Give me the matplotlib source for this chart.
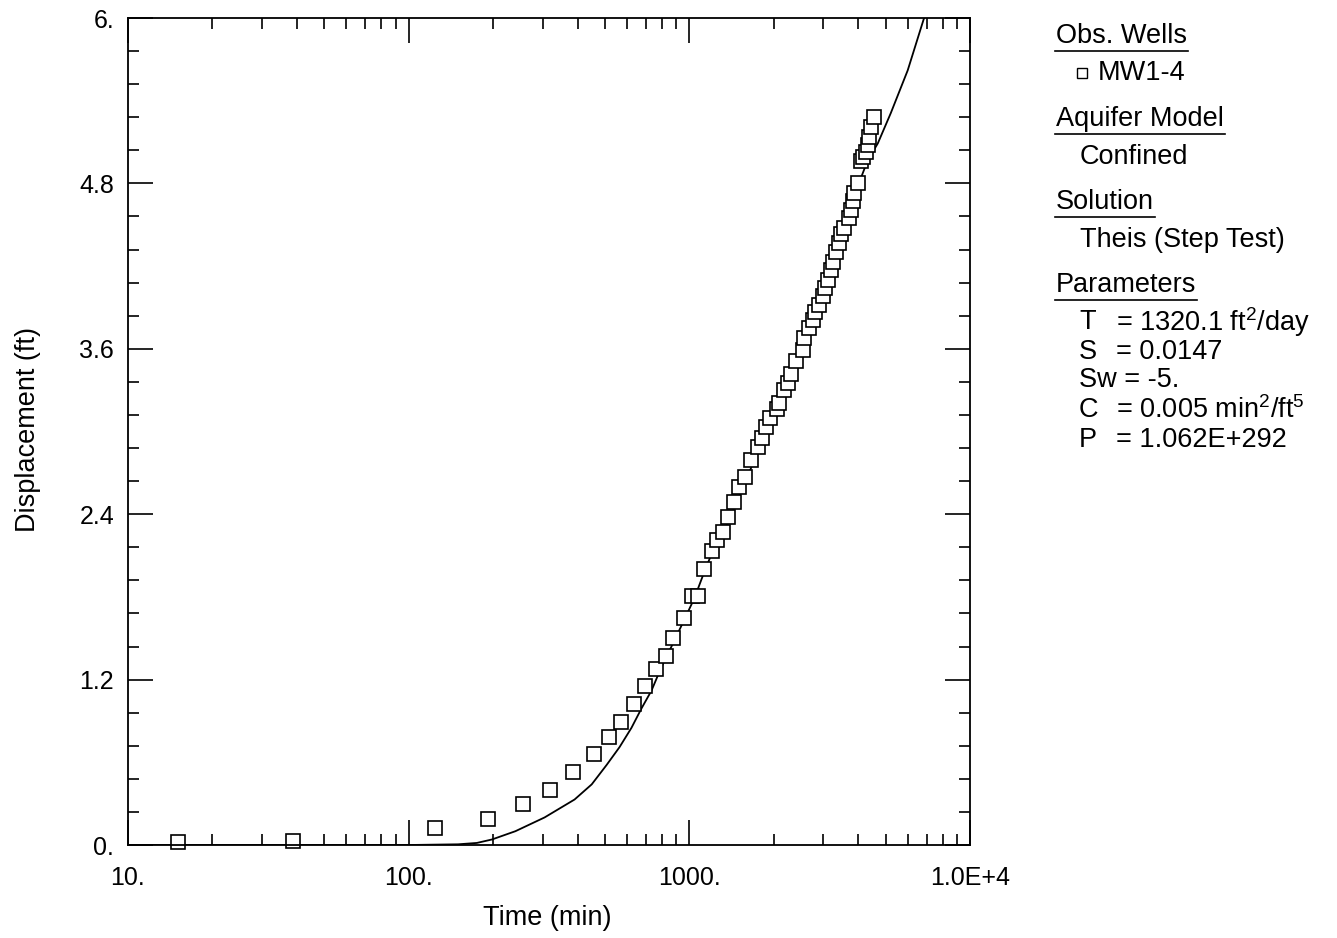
import matplotlib
matplotlib.use("Agg")
import matplotlib.pyplot as plt
import numpy as np
from matplotlib.lines import Line2D
from matplotlib.ticker import FixedLocator, FixedFormatter, NullFormatter

plt.rcParams['font.family'] = ['Liberation Sans', 'DejaVu Sans']
plt.rcParams['mathtext.fontset'] = 'custom'
plt.rcParams['mathtext.rm'] = 'Liberation Sans'

# observed data, MW1-4
obs_time = [15.05, 38.6, 124.2, 191.6, 255.0, 318.3, 384.1, 456.0, 515.6, 568.7,
            632.6, 697.8, 763.5, 828.7, 877.5, 960, 1025, 1076, 1130, 1207,
            1258, 1321, 1376, 1445, 1505, 1581, 1661, 1759, 1817, 1877,
            1940, 2054, 2088, 2175, 2247, 2303, 2399, 2541, 2562, 2669,
            2758, 2803, 2896, 2992, 3042, 3117, 3194, 3247, 3328, 3411,
            3467, 3552, 3703, 3764, 3826, 3857, 3986, 4083, 4151, 4254,
            4324, 4359, 4431, 4541]
obs_disp = [0.02, 0.03, 0.12, 0.19, 0.30, 0.40, 0.53, 0.66, 0.78, 0.89,
            1.02, 1.15, 1.28, 1.37, 1.50, 1.65, 1.81, 1.81, 2.00, 2.13,
            2.21, 2.27, 2.38, 2.49, 2.60, 2.67, 2.79, 2.89, 2.95, 3.03,
            3.10, 3.16, 3.21, 3.30, 3.35, 3.42, 3.51, 3.59, 3.68, 3.75,
            3.81, 3.87, 3.92, 3.98, 4.04, 4.10, 4.17, 4.23, 4.30, 4.37,
            4.43, 4.48, 4.55, 4.61, 4.67, 4.73, 4.80, 4.96, 4.99, 5.03,
            5.08, 5.14, 5.21, 5.28]

# fitted Theis (step test) curve
fit_time = [10, 50, 100, 150, 175, 198, 240, 305, 390, 449, 507, 564, 622, 675,
            733, 795, 878, 952, 1042, 1130, 1227, 1376, 1469, 1956, 2713, 3467,
            4018, 4324, 4693, 5221, 5998, 6836, 7000]
fit_disp = [0.0, 0.0, 0.0, 0.005, 0.015, 0.04, 0.10, 0.20, 0.33, 0.44, 0.58, 0.71,
            0.85, 0.99, 1.12, 1.29, 1.47, 1.62, 1.79, 1.98, 2.16, 2.34, 2.48, 3.08,
            3.77, 4.39, 4.80, 4.97, 5.09, 5.31, 5.62, 5.99, 6.04]

x_major = [10, 100, 1000, 10000]
x_labels = ["10.", "100.", "1000.", "1.0E+4"]
y_major = [0, 1.2, 2.4, 3.6, 4.8, 6.0]
y_labels = ["0.", "1.2", "2.4", "3.6", "4.8", "6."]

W, H = 1337, 938
fig = plt.figure(figsize=(W / 100, H / 100), dpi=100)
ax = fig.add_axes([128 / W, 93 / H, 842 / W, 827 / H])

ax.plot(fit_time, fit_disp, color='black', lw=1.3)
ax.plot(obs_time, obs_disp, linestyle='none', marker='s', ms=9.5,
        mfc='white', mec='black', mew=1.2, clip_on=False)

ax.set_xscale('log')
ax.set_xlim(10, 10000)
ax.set_ylim(0, 6)

ax.xaxis.set_major_locator(FixedLocator(x_major))
ax.xaxis.set_major_formatter(FixedFormatter(x_labels))
minors = [m * d for d in [10, 100, 1000] for m in range(2, 10)]
ax.xaxis.set_minor_locator(FixedLocator(minors))
ax.xaxis.set_minor_formatter(NullFormatter())
ax.yaxis.set_major_locator(FixedLocator(y_major))
ax.yaxis.set_major_formatter(FixedFormatter(y_labels))
ax.yaxis.set_minor_locator(FixedLocator(np.arange(0, 6.01, 0.24)))

ax.tick_params(which='both', direction='in', top=True, right=True,
               labelsize=18, width=1.2, colors='black')
ax.tick_params(which='major', length=18)
ax.tick_params(which='minor', length=8)
ax.tick_params(axis='x', which='major', pad=15)
ax.tick_params(axis='y', which='major', pad=10)
for s in ax.spines.values():
    s.set_linewidth(1.3)

fs = 19.5
fig.text(547 / W, 1 - 918 / H, "Time (min)", fontsize=fs, ha='center', va='center')
fig.text(28 / W, 1 - 430 / H, "Displacement (ft)", fontsize=fs, ha='center',
         va='center', rotation=90)


# side panel
def ftext(x, y, s):
    return fig.text(x / W, 1 - y / H, s, fontsize=fs, va='center', ha='left')


headers = [(1056, 36, "Obs. Wells"), (1056, 119, "Aquifer Model"),
           (1056, 202, "Solution"), (1056, 285, "Parameters")]
head_objs = [ftext(x, y, s) for x, y, s in headers]

ftext(1098, 73, "MW1-4")
fig.add_artist(Line2D([1082 / W], [1 - 73 / H], marker='s', ms=7, mfc='white',
                      mec='black', mew=1.0, transform=fig.transFigure))
ftext(1080, 157, "Confined")
ftext(1080, 240, "Theis (Step Test)")

param_names = ["T", "S", "Sw", "C", "P"]
param_vals = ["= 1320.1 ft$^{2}$/day", "= 0.0147", "= -5.", "= 0.005 min$^{2}$/ft$^{5}$",
              "= 1.062E+292"]
param_y = [322, 352, 380, 410, 440]
for n, v, y in zip(param_names, param_vals, param_y):
    if n == "Sw":
        ftext(1079, y, n + " " + v)
    else:
        ftext(1079, y, n)
        ftext(1116, y, v)

fig.canvas.draw()
r = fig.canvas.get_renderer()
for t in head_objs:
    bb = t.get_window_extent(r).transformed(fig.transFigure.inverted())
    yline = bb.y0 - 2 / H
    fig.add_artist(Line2D([bb.x0 - 1 / W, bb.x1 + 1 / W], [yline, yline],
                          color='black', lw=1.2, transform=fig.transFigure))

fig.savefig("out.png", dpi=100)
